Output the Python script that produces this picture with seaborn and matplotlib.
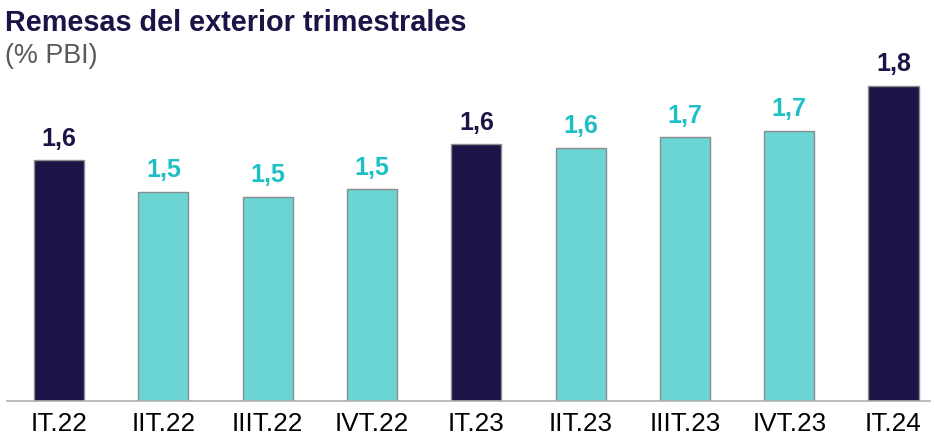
import matplotlib
matplotlib.use("Agg")
import matplotlib.pyplot as plt
import seaborn as sns

# datos
trimestres = ["IT.22", "IIT.22", "IIIT.22", "IVT.22", "IT.23",
              "IIT.23", "IIIT.23", "IVT.23", "IT.24"]
remesas = [1.605, 1.526, 1.513, 1.532, 1.645, 1.637, 1.663, 1.680, 1.793]
es_primer_trim = [True, False, False, False, True, False, False, False, True]

azul = "#1a1546"
turquesa = "#6ad5d2"
turquesa_txt = "#1ebfc5"

sns.set_theme(style="white")
plt.rcParams["font.family"] = ["Liberation Sans", "DejaVu Sans"]

colores = [azul if p else turquesa for p in es_primer_trim]

fig = plt.figure(figsize=(9.34, 4.36), dpi=100)
ax = fig.add_axes([7 / 934, 35 / 436, 923 / 934, 358 / 436])

sns.barplot(
    x=trimestres,
    y=remesas,
    hue=trimestres,
    palette=colores,
    legend=False,
    width=0.48,
    edgecolor="#8c8c8c",
    linewidth=1,
    saturation=1,
    ax=ax,
)

ax.set_ylim(1.0, 1.9)
ax.set_xlim(-0.5, 8.35)

for i, v in enumerate(remesas):
    etiqueta = f"{v:.1f}".replace(".", ",")
    ax.annotate(
        etiqueta,
        (i, v),
        xytext=(0, 7),
        textcoords="offset points",
        ha="center",
        va="bottom",
        fontsize=18,
        fontweight="bold",
        color=azul if es_primer_trim[i] else turquesa_txt,
        annotation_clip=False,
    )

for s in ["top", "right", "left"]:
    ax.spines[s].set_visible(False)
ax.spines["bottom"].set_color("#b0b0b0")
ax.spines["bottom"].set_linewidth(1.2)
ax.set_yticks([])
ax.tick_params(axis="x", labelsize=18.8, colors="black", length=0, pad=8)
ax.set_xlabel("")
ax.set_ylabel("")

fig.text(5 / 934, 1 - 31 / 436, "Remesas del exterior trimestrales",
         fontsize=20.8, fontweight="bold", color=azul, ha="left", va="baseline")
fig.text(5 / 934, 1 - 63 / 436, "(% PBI)",
         fontsize=19.4, color="#595959", ha="left", va="baseline")

fig.savefig("out.png", dpi=100)
